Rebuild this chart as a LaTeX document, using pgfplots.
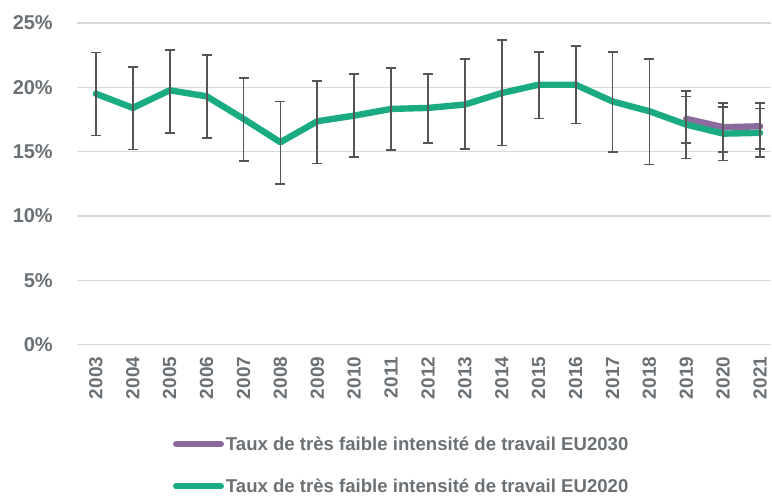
\documentclass[border=0pt]{standalone}
\usepackage{pgfplots}
\pgfplotsset{compat=1.18}
\usepackage{fontspec}
\setmainfont{Liberation Sans}
\definecolor{txtgray}{HTML}{6B7075}
\definecolor{gridgray}{HTML}{D9D9D9}
\definecolor{egreen}{HTML}{1AAB82}
\definecolor{epurple}{HTML}{8C6A9E}
\definecolor{errgray}{HTML}{555555}
\begin{document}
\begin{tikzpicture}[x=1pt,y=1pt]
\begin{axis}[
  scale only axis, width=695pt, height=322pt,
  xmin=2002.485, xmax=2021.3, ymin=0, ymax=25,
  axis line style={draw=none},
  xtick={2003,...,2021}, ytick={0,5,...,25},
  major tick length=0pt,
  ymajorgrids, grid style={gridgray, line width=1.6pt},
  /pgf/number format/assume math mode=true,
  /pgf/number format/1000 sep={},
  yticklabel={\pgfmathprintnumber{\tick}\%},
  yticklabel style={font=\bfseries\fontsize{20}{20}\selectfont, text=txtgray, anchor=east, inner sep=0pt, xshift=-24pt},
  xticklabel style={font=\bfseries\fontsize{19}{19}\selectfont, text=txtgray, rotate=90, anchor=east, inner sep=0pt, xshift=-12pt},
  legend style={at={(96pt,-90pt)}, anchor=north west, draw=none, fill=none,
    font=\bfseries\fontsize{18.6}{18.6}\selectfont, text=txtgray, inner sep=0pt,
    row sep=23pt, legend cell align=left,
    nodes={inner xsep=2pt}},
  legend image code/.code={\draw[line width=6pt, line cap=round] (3pt,0pt) -- (48pt,0pt);},
  error bars/y dir=both, error bars/y explicit,
  error bars/error bar style={errgray, line width=1.8pt},
  error bars/error mark options={rotate=90, errgray, line width=1.8pt, mark size=5pt},
  clip=false,
]
\addplot[epurple, line width=6.4pt, line cap=round, line join=round] coordinates {
  (2019,17.55) += (0,2.17) -= (0,1.87)
  (2020,16.90) += (0,1.89) -= (0,1.92)
  (2021,16.97) += (0,1.82) -= (0,1.77)
};
\addlegendentry{Taux de très faible intensité de travail EU2030}
\addplot[egreen, line width=6.4pt, line cap=round, line join=round] coordinates {
  (2003,19.50) += (0,3.20) -= (0,3.25)
  (2004,18.40) += (0,3.20) -= (0,3.24)
  (2005,19.77) += (0,3.13) -= (0,3.31)
  (2006,19.30) += (0,3.20) -= (0,3.23)
  (2007,17.55) += (0,3.15) -= (0,3.27)
  (2008,15.73) += (0,3.17) -= (0,3.26)
  (2009,17.36) += (0,3.14) -= (0,3.28)
  (2010,17.80) += (0,3.24) -= (0,3.23)
  (2011,18.32) += (0,3.16) -= (0,3.21)
  (2012,18.40) += (0,2.66) -= (0,2.72)
  (2013,18.66) += (0,3.54) -= (0,3.46)
  (2014,19.56) += (0,4.12) -= (0,4.09)
  (2015,20.20) += (0,2.55) -= (0,2.63)
  (2016,20.20) += (0,3.00) -= (0,3.02)
  (2017,18.90) += (0,3.85) -= (0,3.90)
  (2018,18.14) += (0,4.06) -= (0,4.14)
  (2019,17.10) += (0,2.18) -= (0,2.64)
  (2020,16.40) += (0,2.07) -= (0,2.09)
  (2021,16.46) += (0,1.89) -= (0,1.86)
};
\addlegendentry{Taux de très faible intensité de travail EU2020}
\end{axis}
\path[use as bounding box] (-77pt,-150pt) rectangle (695pt,345pt);
\end{tikzpicture}
\end{document}
